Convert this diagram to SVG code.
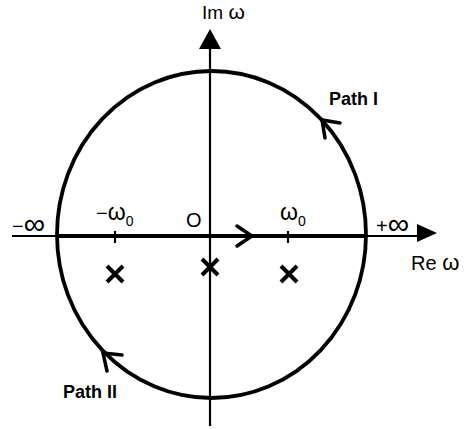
<svg xmlns="http://www.w3.org/2000/svg" width="467" height="429" viewBox="0 0 467 429">
<style>
.t{font-family:"Liberation Sans",Arial,sans-serif;fill:#000}
.b{font-weight:bold}
.thin{stroke:#000;stroke-width:2.2;fill:none}
.thick{stroke:#000;stroke-width:3.8;fill:none}
.chev{stroke:#000;stroke-width:3.5;fill:none;stroke-linecap:round;stroke-linejoin:miter}
.x{stroke:#000;stroke-width:4;stroke-linecap:butt}
</style>
<rect width="467" height="429" fill="#fff"/>
<g id="axes">
  <line class="thin" x1="12" y1="236" x2="58" y2="236"/>
  <line class="thin" x1="365" y1="236" x2="420" y2="236"/>
  <polygon points="417,224 437,233 417,242" fill="#000"/>
  <line class="thin" x1="210" y1="48" x2="210" y2="426"/>
  <polygon points="199,49 210,29 221,49" fill="#000"/>
  <line class="thin" x1="115" y1="231" x2="115" y2="243"/>
  <line class="thin" x1="288" y1="231" x2="288" y2="243"/>
</g>
<g id="contour">
  <ellipse class="thick" cx="211.5" cy="234.5" rx="154.5" ry="163.5"/>
  <line class="thick" x1="57" y1="236" x2="366" y2="236"/>
</g>
<g id="connectors">
  <polyline class="chev" points="237,226 252,236 237,246"/>
  <polyline class="chev" points="340,123 322,120 325,138"/>
  <polyline class="chev" points="122,355 103,353 107,371"/>
</g>
<g id="poles">
  <path class="x" d="M107,266 L123,282 M123,266 L107,282"/>
  <path class="x" d="M202,259 L218,275 M218,259 L202,275"/>
  <path class="x" d="M281,266 L297,282 M297,266 L281,282"/>
</g>
<g id="labels">
  <text class="t" x="202" y="19" font-size="19">Im <tspan font-size="21">ω</tspan></text>
  <text class="t b" x="329" y="105" font-size="18">Path I</text>
  <text class="t b" x="63" y="398" font-size="18">Path II</text>
  <text class="t" x="12" y="233" font-size="20">−<tspan font-size="30" dy="1">∞</tspan></text>
  <text class="t" x="96" y="220" font-size="20">−<tspan font-size="23">ω</tspan><tspan font-size="14" dy="6">0</tspan></text>
  <text class="t" x="186" y="227" font-size="20">O</text>
  <text class="t" x="280" y="220" font-size="23">ω<tspan font-size="14" dy="6">0</tspan></text>
  <text class="t" x="376" y="233" font-size="20">+<tspan font-size="30" dy="1">∞</tspan></text>
  <text class="t" x="411" y="270" font-size="20">Re <tspan font-size="22">ω</tspan></text>
</g>
</svg>
